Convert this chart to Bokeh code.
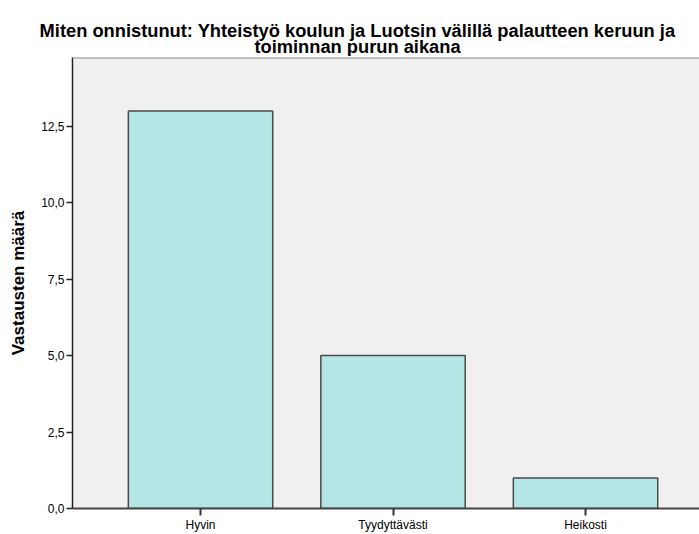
from bokeh.plotting import figure
from bokeh.layouts import column
from bokeh.models import Range1d, FixedTicker, Span, CustomJSTickFormatter, Plot
from bokeh.core.properties import value
from bokeh.embed import file_html
from bokeh.resources import INLINE

# ---- data ----
title_lines = ["Miten onnistunut: Yhteistyö koulun ja Luotsin välillä palautteen keruun ja",
               "toiminnan purun aikana"]
categories = ["Hyvin", "Tyydyttävästi", "Heikosti"]
counts = [13, 5, 1]
y_ticks = [0, 2.5, 5, 7.5, 10, 12.5]
y_label = "Vastausten määrä"

# ---- layout constants (pixels) ----
W, H = 699, 534
TITLE_H = 56
TITLE_CX = 357
TITLE_BASELINES = [29.5, 45.8]
FONT = "Liberation Sans"

xs = list(range(len(categories)))

# ---- title strip (a small figure whose data space is pixel space) ----
tf = figure(width=W, height=TITLE_H, output_backend="svg", toolbar_location=None,
            x_range=Range1d(0, W), y_range=Range1d(TITLE_H, 0),
            x_axis_location=None, y_axis_location=None,
            min_border=0, title=None)
tf.grid.visible = False
tf.outline_line_color = None
tf.background_fill_color = "white"
tf.border_fill_color = "white"
tf.text(x=[TITLE_CX] * len(title_lines), y=TITLE_BASELINES, text=title_lines,
        text_align="center", text_baseline="alphabetic",
        text_font=value(FONT), text_font_size="18.3px", text_font_style="bold",
        text_color="black")

# ---- main chart ----
p = figure(width=W, height=H - TITLE_H, output_backend="svg", toolbar_location=None,
           x_range=Range1d(-0.665, 2.592), y_range=Range1d(0, 14.75),
           min_border_left=72, min_border_right=0, min_border_top=1,
           min_border_bottom=24, title=None)

# do not align the two frames with each other
if "frame_align" in Plot.properties():
    tf.frame_align = False
    p.frame_align = False

p.background_fill_color = "#F0F0F0"
p.border_fill_color = "white"
p.outline_line_color = None
p.xgrid.visible = False
p.ygrid.visible = False

p.vbar(x=xs, top=counts, width=0.75, fill_color="#B4E6E6",
       line_color="#4a4a4a", line_width=1.5)

# top border of the plot area
p.add_layout(Span(location=p.y_range.end, dimension="width",
                  line_color="#8a8a8a", line_width=2))

# y axis
ya = p.yaxis[0]
ya.ticker = FixedTicker(ticks=y_ticks)
ya.formatter = CustomJSTickFormatter(code="return tick.toFixed(1).replace('.', ',');")
ya.axis_label = y_label
ya.axis_label_text_font = FONT
ya.axis_label_text_font_size = "17px"
ya.axis_label_text_font_style = "bold"
ya.axis_label_text_color = "black"
ya.axis_label_standoff = 10
ya.major_label_text_font = FONT
ya.major_label_text_font_size = "12px"
ya.major_label_text_color = "black"
ya.major_label_standoff = 2
ya.major_tick_out = 6
ya.major_tick_in = 0
ya.minor_tick_out = 0
ya.minor_tick_in = 0
ya.major_tick_line_color = "#222222"
ya.major_tick_line_width = 1.5
ya.axis_line_color = "#222222"
ya.axis_line_width = 1.5

# x axis
xa = p.xaxis[0]
xa.ticker = FixedTicker(ticks=xs)
xa.major_label_overrides = {i: c for i, c in zip(xs, categories)}
xa.major_label_text_font = FONT
xa.major_label_text_font_size = "12px"
xa.major_label_text_color = "black"
xa.major_label_standoff = 2
xa.major_tick_out = 7
xa.major_tick_in = 0
xa.minor_tick_out = 0
xa.minor_tick_in = 0
xa.major_tick_line_color = "#333333"
xa.major_tick_line_width = 2
xa.axis_line_color = "#444444"
xa.axis_line_width = 2

layout = column(tf, p, spacing=0)
open("out.html", "w").write(file_html(layout, INLINE))
